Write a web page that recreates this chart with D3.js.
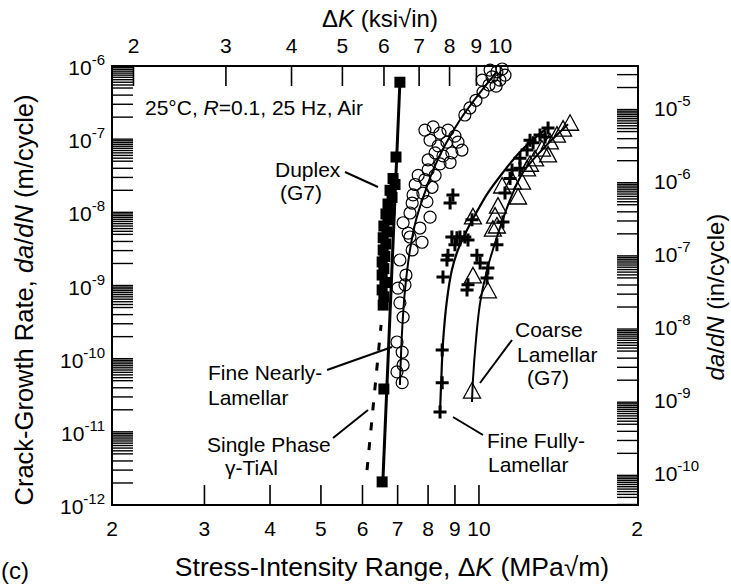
<!DOCTYPE html>
<html><head><meta charset="utf-8">
<script src="https://cdn.jsdelivr.net/npm/d3@7"></script>
<style>
body{margin:0;background:#fff;}
text{font-family:"Liberation Sans",Arial,Helvetica,sans-serif;fill:#000;}
</style></head>
<body>
<svg id="c" width="731" height="587"></svg>
<script>
// ---------- data ----------
const xTicksMPa = [2,3,4,5,6,7,8,9,10,20];
const xTickLabelsMPa = ["2","3","4","5","6","7","8","9","10","2"];
const xTicksKsi = [2,3,4,5,6,7,8,9,10];
const yMajorExp = [-12,-11,-10,-9,-8,-7,-6];
const yRightExp = [-10,-9,-8,-7,-6,-5];

// Duplex (G7) - filled squares
const duplexDK   = [7.07,6.95,6.86,6.92,6.77,6.83,6.71,6.77,6.65,6.71,6.59,6.68,6.57,6.65,6.57,6.62,6.54,6.59,6.54,6.62,6.54,6.59,6.57,6.59,6.54];
const duplexRate = [6.0e-7,5.7e-8,2.9e-8,2.4e-8,2.0e-8,1.6e-8,1.3e-8,1.08e-8,9.5e-9,7.9e-9,6.5e-9,5.4e-9,4.5e-9,3.7e-9,3.06e-9,2.5e-9,2.1e-9,1.7e-9,1.39e-9,1.1e-9,8.7e-10,7.0e-10,5.4e-10,3.85e-11,2.07e-12];
const duplexFitDK   = [6.56,7.07];
const duplexFitRate = [2.07e-12,6.0e-7];

// Single phase gamma-TiAl (dashed)
const singleFitDK   = [6.12,6.51];
const singleFitRate = [3.0e-12,2.9e-10];

// Fine nearly-lamellar - open circles
const nearlyDK   = [9.87,10.18,10.45,10.14,10.59,10.82,11.07,10.50,10.78,10.96,11.21,9.61,9.40,
  7.89,8.18,8.43,8.73,9.00,8.07,8.36,8.69,9.12,9.28,8.25,8.54,8.88,8.00,8.43,8.81,
  7.66,7.49,7.82,7.46,7.96,7.39,8.07,7.17,7.72,7.33,7.79,7.39,7.07,7.89,8.14,8.25,8.00,7.56,7.46,
  7.26,7.23,7.01,7.07,7.17,6.98,7.14,7.17,6.98,7.14];
const nearlyRate = [3.4e-7,4.4e-7,5.5e-7,6.4e-7,7.1e-7,8.3e-7,9.1e-7,8.8e-7,5.3e-7,6.4e-7,7.5e-7,2.67e-7,2.14e-7,
  1.33e-7,1.47e-7,1.21e-7,1.33e-7,1.10e-7,9.7e-8,8.1e-8,9.1e-8,9.1e-8,7.1e-8,6.5e-8,5.9e-8,6.5e-8,5.2e-8,4.6e-8,4.8e-8,
  3.2e-8,1.73e-8,1.83e-8,1.34e-8,1.4e-8,9.8e-9,8.6e-9,7.2e-9,6.1e-9,5.2e-9,3.9e-9,4.6e-9,2.23e-9,2.8e-8,2.2e-8,3.2e-8,3.8e-8,2.4e-8,3.06e-9,
  1.39e-9,1.02e-9,9.2e-10,5.8e-10,3.7e-10,1.69e-10,1.23e-10,8.2e-11,6.6e-11,4.7e-11];
const nearlyFitDK   = [7.07,7.14,7.23,7.39,7.59,7.86,8.18,8.62,9.20,9.96,10.82];
const nearlyFitRate = [4.37e-11,2.47e-10,8.7e-10,3.06e-9,7.9e-9,1.73e-8,3.8e-8,8.3e-8,1.83e-7,4.0e-7,8.3e-7];

// Fine fully-lamellar - plus signs
const fullyDK   = [8.92,8.81,8.88,9.08,9.20,9.40,9.53,9.00,8.73,8.69,8.54,9.70,9.91,10.05,10.40,9.53,9.49,10.82,10.36,11.11,11.21,11.56,8.51,8.51,8.43,
  11.97,12.35,12.68,13.07,13.54,12.51,11.97,11.46,13.36];
const fullyRate = [1.73e-8,1.34e-8,4.6e-9,4.5e-9,4.6e-9,4.6e-9,4.2e-9,3.6e-9,2.6e-9,2.23e-9,1.31e-9,7.9e-9,2.6e-9,2.03e-9,1.73e-9,1.02e-9,8.7e-10,3.6e-9,1.27e-9,7.4e-9,1.84e-8,3.8e-8,1.31e-10,4.7e-11,1.87e-11,
  5.5e-8,7.1e-8,8.9e-8,1.14e-7,1.42e-7,9.7e-8,4.0e-8,2.9e-8,1.07e-7];
const fullyFitDK   = [8.43,8.47,8.54,8.69,8.88,9.12,9.45,9.83,10.40,11.11,11.97,13.54];
const fullyFitRate = [1.87e-11,4.4e-11,1.64e-10,6.3e-10,1.63e-9,3.06e-9,5.4e-9,9.2e-9,1.84e-8,3.5e-8,6.7e-8,1.46e-7];

// Coarse lamellar (G7) - open triangles
const coarseDK   = [9.74,10.87,10.73,11.07,11.61,12.08,11.87,10.82,10.63,9.74,10.40,9.70,12.35,
  12.79,13.18,13.65,14.08,14.46,14.91,13.54,12.51];
const coarseRate = [8.4e-9,1.18e-8,8.6e-9,2.22e-8,2.5e-8,2.5e-8,1.57e-8,6.3e-9,5.7e-9,1.31e-9,8.2e-10,3.5e-11,3.8e-8,
  5.2e-8,7.1e-8,8.9e-8,1.1e-7,1.33e-7,1.6e-7,5.9e-8,4.4e-8];
const coarseFitDK   = [9.70,9.74,9.87,10.05,10.36,10.82,11.46,12.13,13.18,14.78];
const coarseFitRate = [2.56e-11,5.1e-11,1.8e-10,5.8e-10,1.63e-9,4.6e-9,1.48e-8,3.5e-8,7.1e-8,1.6e-7];

// ---------- drawing ----------
const svg = d3.select("#c");
const L=112, R=638, T=66, B=505;
const x = d3.scaleLog().domain([2,20]).range([L,637]);
const y = d3.scaleLog().domain([1e-12,1e-6]).range([B,T]);
const KSI_TO_MPA = 1/0.9101;
const IN_TO_M = 0.0254;
const TL = 21;
const FONT = 21;

const g = svg.append("g");

const minorMult = [2,3,4,5,5.5,6,6.5,7,7.5,8,8.5,9,9.5];

// left ticks
const leftTicks = [];
yMajorExp.forEach(e=>{ leftTicks.push(Math.pow(10,e)); if(e<-6) minorMult.forEach(m=>leftTicks.push(m*Math.pow(10,e))); });
g.selectAll(".lt").data(leftTicks).join("line")
  .attr("x1",L).attr("x2",L+TL).attr("y1",d=>y(d)).attr("y2",d=>y(d))
  .attr("stroke","#000").attr("stroke-width",1.4);

// right ticks (in/cycle)
const rightTicks = [];
[-11,-10,-9,-8,-7,-6,-5].forEach(e=>{
  [1].concat(minorMult).forEach(m=>{
    const v = m*Math.pow(10,e)*IN_TO_M;
    if (v>=1e-12*1.001 && v<=1e-6*0.98) rightTicks.push(v);
  });
});
g.selectAll(".rt").data(rightTicks).join("line")
  .attr("x1",R-TL).attr("x2",R).attr("y1",d=>y(d)).attr("y2",d=>y(d))
  .attr("stroke","#000").attr("stroke-width",1.4);

// bottom ticks
g.selectAll(".bt").data(xTicksMPa.slice(1,-1)).join("line")
  .attr("x1",d=>x(d)).attr("x2",d=>x(d)).attr("y1",B).attr("y2",B-20)
  .attr("stroke","#000").attr("stroke-width",1.6);
// top ticks
g.selectAll(".tt").data(xTicksKsi).join("line")
  .attr("x1",d=>x(d*KSI_TO_MPA)).attr("x2",d=>x(d*KSI_TO_MPA)).attr("y1",T).attr("y2",T+20)
  .attr("stroke","#000").attr("stroke-width",1.6);

// frame
g.append("rect").attr("x",L).attr("y",T).attr("width",R-L).attr("height",B-T)
  .attr("fill","none").attr("stroke","#000").attr("stroke-width",2);

// bottom tick labels
g.selectAll(".bl").data(xTicksMPa).join("text")
  .attr("x",d=>x(d)).attr("y",536).attr("text-anchor","middle").attr("font-size",FONT)
  .text((d,i)=>xTickLabelsMPa[i]);
// top tick labels
g.selectAll(".tl").data(xTicksKsi).join("text")
  .attr("x",d=>x(d*KSI_TO_MPA)).attr("y",53).attr("text-anchor","middle").attr("font-size",FONT)
  .text(d=>d);

// left labels
yMajorExp.forEach(e=>{
  const t = g.append("text").attr("x",105).attr("y",y(Math.pow(10,e))+9).attr("text-anchor","end").attr("font-size",FONT);
  t.append("tspan").text("10");
  t.append("tspan").attr("dy",-10).attr("font-size",15).text(String(e));
});
// right labels
yRightExp.forEach(e=>{
  const t = g.append("text").attr("x",654).attr("y",y(Math.pow(10,e)*IN_TO_M)+6).attr("text-anchor","start").attr("font-size",FONT);
  t.append("tspan").text("10");
  t.append("tspan").attr("dy",-10).attr("font-size",15).text(String(e));
});

// axis titles
const tt = g.append("text").attr("x",380).attr("y",27).attr("text-anchor","middle").attr("font-size",24);
tt.append("tspan").text("Δ"); tt.append("tspan").attr("font-style","italic").text("K");
tt.append("tspan").text(" (ksi√in)");

const bt = g.append("text").attr("x",392).attr("y",576).attr("text-anchor","middle").attr("font-size",26.5);
bt.append("tspan").text("Stress-Intensity Range, Δ"); bt.append("tspan").attr("font-style","italic").text("K");
bt.append("tspan").text(" (MPa√m)");
g.append("text").attr("x",1).attr("y",579).attr("font-size",24).text("(c)");

const lt = g.append("text").attr("transform","translate(33,300) rotate(-90)").attr("text-anchor","middle").attr("font-size",25.5);
lt.append("tspan").text("Crack-Growth Rate, ");
lt.append("tspan").attr("font-style","italic").text("da");
lt.append("tspan").text("/");
lt.append("tspan").attr("font-style","italic").text("dN");
lt.append("tspan").text(" (m/cycle)");

const rtt = g.append("text").attr("transform","translate(724,297) rotate(-90)").attr("text-anchor","middle").attr("font-size",24);
rtt.append("tspan").attr("font-style","italic").text("da");
rtt.append("tspan").text("/");
rtt.append("tspan").attr("font-style","italic").text("dN");
rtt.append("tspan").text(" (in/cycle)");

// condition text
const ct = g.append("text").attr("x",145).attr("y",115).attr("font-size",FONT);
ct.append("tspan").text("25°C, ");
ct.append("tspan").attr("font-style","italic").text("R");
ct.append("tspan").text("=0.1, 25 Hz, Air");

// ---------- fit lines ----------
const zip = (a,b)=>a.map((v,i)=>[v,b[i]]);
const line = d3.line().x(d=>x(d[0])).y(d=>y(d[1])).curve(d3.curveCatmullRom.alpha(0.5));
const plot = g.append("g");
plot.append("path").attr("d",line(zip(duplexFitDK,duplexFitRate))).attr("fill","none").attr("stroke","#000").attr("stroke-width",3);
plot.append("path").attr("d",line(zip(singleFitDK,singleFitRate))).attr("fill","none").attr("stroke","#000").attr("stroke-width",3).attr("stroke-dasharray","8,12");
plot.append("path").attr("d",line(zip(nearlyFitDK,nearlyFitRate))).attr("fill","none").attr("stroke","#000").attr("stroke-width",2);
plot.append("path").attr("d",line(zip(fullyFitDK,fullyFitRate))).attr("fill","none").attr("stroke","#000").attr("stroke-width",2.2);
plot.append("path").attr("d",line(zip(coarseFitDK,coarseFitRate))).attr("fill","none").attr("stroke","#000").attr("stroke-width",2);

// ---------- markers ----------
plot.selectAll(".sq").data(zip(duplexDK,duplexRate)).join("rect")
  .attr("x",d=>x(d[0])-5.5).attr("y",d=>y(d[1])-5.5).attr("width",11).attr("height",11).attr("fill","#000");
plot.selectAll(".ci").data(zip(nearlyDK,nearlyRate)).join("circle")
  .attr("cx",d=>x(d[0])).attr("cy",d=>y(d[1])).attr("r",6).attr("fill","none").attr("stroke","#000").attr("stroke-width",1.2);
plot.selectAll(".pl").data(zip(fullyDK,fullyRate)).join("path")
  .attr("d",d=>{const cx=x(d[0]),cy=y(d[1]);return `M${cx-6.5},${cy}H${cx+6.5}M${cx},${cy-6.5}V${cy+6.5}`;})
  .attr("stroke","#000").attr("stroke-width",3).attr("fill","none");
plot.selectAll(".tr").data(zip(coarseDK,coarseRate)).join("path")
  .attr("d",d=>{const cx=x(d[0]),cy=y(d[1]);return `M${cx},${cy-9.5}L${cx+8.5},${cy+6}L${cx-8.5},${cy+6}Z`;})
  .attr("stroke","#000").attr("stroke-width",1.3).attr("fill","none");

// ---------- labels & leaders ----------
function label(lines, xs, ys){
  lines.forEach((s,i)=>g.append("text").attr("x",xs[i]).attr("y",ys[i]).attr("font-size",FONT).text(s));
}
function leader(x1,y1,x2,y2){
  g.append("line").attr("x1",x1).attr("y1",y1).attr("x2",x2).attr("y2",y2).attr("stroke","#000").attr("stroke-width",2);
}
label(["Duplex","(G7)"],[275,280],[177,200]); leader(345,172,378,187);
label(["Fine Nearly-","Lamellar"],[208,208],[380,405]); leader(327,370,392,347);
label(["Single Phase","γ-TiAl"],[207,225],[452,475]); leader(333,438,368,410);
label(["Coarse","Lamellar","(G7)"],[515,517,527],[337,362,385]); leader(480,383,512,340);
label(["Fine Fully-","Lamellar"],[487,488],[448,472]); leader(453,417,483,435);
</script>
</body></html>
